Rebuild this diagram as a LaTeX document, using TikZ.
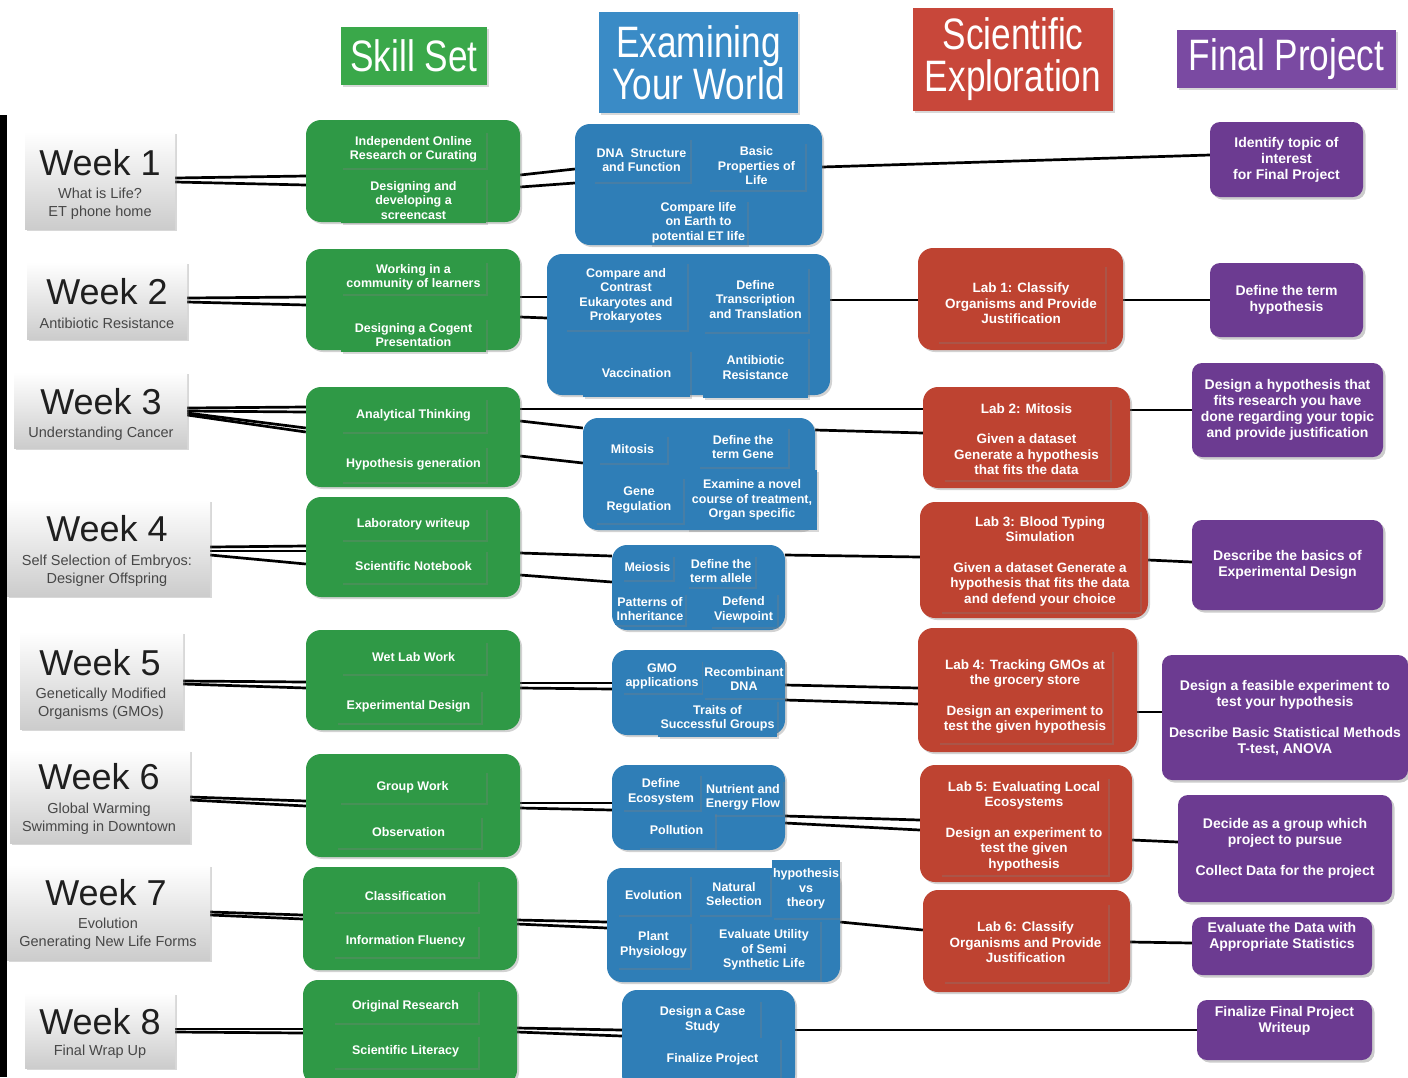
\documentclass[tikz,border=0pt]{standalone}
\usepackage{fontspec}
\setmainfont{Liberation Sans}
\newfontfamily\headfont[FakeStretch=0.8]{Liberation Sans}
\usetikzlibrary{shadows,backgrounds}
\definecolor{cgreen}{HTML}{2F9946}
\definecolor{cblue}{HTML}{2F7EB7}
\definecolor{cred}{HTML}{BE4331}
\definecolor{cpurple}{HTML}{6C3B91}
\definecolor{hgreen}{HTML}{3AA84A}
\definecolor{hblue}{HTML}{3A8BC6}
\definecolor{hred}{HTML}{C8473A}
\definecolor{hpurple}{HTML}{7A4AA2}
\tikzset{
  obox/.style={rounded corners=15pt, fill=#1, draw=none, inner sep=0pt,
    drop shadow={shadow xshift=2pt,shadow yshift=-2pt,opacity=.35}},
  ibox/.style={fill=#1, draw=none, inner sep=0pt, text=white, align=center,
    font=\bfseries\fontsize{12.5}{14.5}\selectfont,
    drop shadow={shadow xshift=1.5pt,shadow yshift=-1.5pt,opacity=.3}},
  rbox/.style={ibox=cred, font=\bfseries\fontsize{13.5}{15.5}\selectfont},
  pbox/.style={rounded corners=10pt, fill=cpurple, draw=none, inner sep=0pt,
    text=white, align=center, font=\bfseries\fontsize{14}{16}\selectfont,
    drop shadow={shadow xshift=2.5pt,shadow yshift=-2.5pt,opacity=.4}},
  hdr/.style={fill=#1, draw=none, inner sep=0pt, text=white, align=center,
    font=\headfont\fontsize{44}{42}\selectfont,
    drop shadow={shadow xshift=2pt,shadow yshift=-2pt,opacity=.3}},
  wkbox/.style={draw=none, top color=white, bottom color=black!20, inner sep=0pt,
    drop shadow={shadow xshift=1.5pt,shadow yshift=-2pt,opacity=.3}},
  wktitle/.style={inner sep=0pt, text=black!88, font=\fontsize{36}{38}\selectfont},
  wksub/.style={inner sep=0pt, text=black!72, align=center, font=\fontsize{14.5}{18}\selectfont},
  conn/.style={draw=black, line width=2.7pt},
}
\newcommand\bx[7]{\node[#1,minimum width={(#4)-(#2)},minimum height={(#5)-(#3)}] (#6) at ({((#2)+(#4))/2},{((#3)+(#5))/2}) {#7};}
\newcommand\cn[4]{\coordinate (ya) at (0,#2); \coordinate (yb) at (0,#4); \draw[conn] (#1.east |- ya) -- (#3.west |- yb);}
\begin{document}
\begin{tikzpicture}[x=1pt,y=-1pt]
\begin{scope}[on background layer]
\fill[white] (0,0) rectangle (1408,1077);
\end{scope}
\useasboundingbox (0,0) rectangle (1408,1077);
\fill[black] (0,115) rectangle (7,1077);

% headers
\bx{hdr=hgreen}{341}{27}{487}{85}{hSkill}{Skill Set}
\bx{hdr=hblue}{599}{12}{798}{113}{hExam}{Examining\\Your World}
\bx{hdr=hred}{913}{8}{1113}{111}{hSci}{Scientific\\Exploration}
\bx{hdr=hpurple}{1177}{30}{1396}{88}{hFinal}{Final Project}

% weeks
\bx{wkbox}{25}{132}{175}{229}{w1}{}
\node[wktitle] (w1t) at (100,163) {Week 1};
\node[wksub] (w1s) at (100,204) {What is Life?\\ET phone home};
\bx{wkbox}{27}{262}{187}{339}{w2}{}
\node[wktitle] (w2t) at (107,292) {Week 2};
\node[wksub] (w2s) at (107,323) {Antibiotic Resistance};
\bx{wkbox}{14}{372}{187}{448}{w3}{}
\node[wktitle] (w3t) at (101,402) {Week 3};
\node[wksub] (w3s) at (101,434) {Understanding Cancer};
\bx{wkbox}{7}{500}{210}{596}{w4}{}
\node[wktitle] (w4t) at (107,529) {Week 4};
\node[wksub] (w4s) at (107,571) {Self Selection of Embryos:\\Designer Offspring};
\bx{wkbox}{20}{632}{183}{729}{w5}{}
\node[wktitle] (w5t) at (100,663) {Week 5};
\node[wksub] (w5s) at (101,704) {Genetically Modified\\Organisms (GMOs)};
\bx{wkbox}{10}{750}{190}{843}{w6}{}
\node[wktitle] (w6t) at (99,777) {Week 6};
\node[wksub] (w6s) at (99,819) {Global Warming\\Swimming in Downtown};
\bx{wkbox}{7}{865}{210}{960}{w7}{}
\node[wktitle] (w7t) at (106,893) {Week 7};
\node[wksub] (w7s) at (108,934) {Evolution\\Generating New Life Forms};
\bx{wkbox}{25}{993}{175}{1068}{w8}{}
\node[wktitle] (w8t) at (100,1022) {Week 8};
\node[wksub] (w8s) at (100,1052) {Final Wrap Up};

% green column
\bx{obox=cgreen}{306}{120}{520}{222}{g1}{}
\bx{ibox=cgreen}{341}{131}{486}{168}{g1a}{Independent Online\\Research or Curating}
\bx{ibox=cgreen}{341}{178}{486}{223}{g1b}{Designing and\\developing a\\screencast}
\bx{obox=cgreen}{306}{249}{520}{350}{g2}{}
\bx{ibox=cgreen}{341}{261}{486}{294}{g2a}{Working in a\\community of learners}
\bx{ibox=cgreen}{341}{318}{486}{352}{g2b}{Designing a Cogent\\Presentation}
\bx{obox=cgreen}{306}{387}{520}{487}{g3}{}
\bx{ibox=cgreen}{341}{398}{486}{432}{g3a}{Analytical Thinking}
\bx{ibox=cgreen}{341}{446}{486}{482}{g3b}{Hypothesis generation}
\bx{obox=cgreen}{306}{497}{520}{597}{g4}{}
\bx{ibox=cgreen}{341}{508}{486}{540}{g4a}{Laboratory writeup}
\bx{ibox=cgreen}{341}{550}{486}{583}{g4b}{Scientific Notebook}
\bx{obox=cgreen}{306}{630}{520}{730}{g5}{}
\bx{ibox=cgreen}{341}{641}{486}{674}{g5a}{Wet Lab Work}
\bx{ibox=cgreen}{336}{690}{481}{723}{g5b}{Experimental Design}
\bx{obox=cgreen}{306}{754}{520}{857}{g6}{}
\bx{ibox=cgreen}{339}{771}{486}{803}{g6a}{Group Work}
\bx{ibox=cgreen}{336}{816}{481}{848}{g6b}{Observation}
\bx{obox=cgreen}{303}{867}{517}{970}{g7}{}
\bx{ibox=cgreen}{333}{880}{478}{912}{g7a}{Classification}
\bx{ibox=cgreen}{333}{925}{478}{957}{g7b}{Information Fluency}
\bx{obox=cgreen}{303}{980}{517}{1085}{g8}{}
\bx{ibox=cgreen}{333}{990}{478}{1023}{g8a}{Original Research}
\bx{ibox=cgreen}{333}{1035}{478}{1068}{g8b}{Scientific Literacy}

% blue column
\bx{obox=cblue}{575}{124}{822}{245}{b1}{}
\bx{ibox=cblue}{593}{138}{690}{182}{b1a}{DNA\ \ Structure\\and Function}
\bx{ibox=cblue}{708}{142}{805}{190}{b1b}{Basic\\Properties of\\Life}
\bx{ibox=cblue}{650}{200}{747}{245}{b1c}{Compare life\\on Earth to\\potential ET life}
\bx{obox=cblue}{547}{254}{830}{395}{b2}{}
\bx{ibox=cblue}{565}{262}{687}{330}{b2a}{Compare and\\Contrast\\Eukaryotes and\\Prokaryotes}
\bx{ibox=cblue}{703}{267}{808}{332}{b2b}{Define\\Transcription\\and Translation}
\bx{ibox=cblue}{583}{350}{690}{397}{b2c}{Vaccination}
\bx{ibox=cblue}{703}{337}{808}{398}{b2d}{Antibiotic\\Resistance}
\bx{obox=cblue}{583}{418}{815}{530}{b3}{}
\bx{ibox=cblue}{598}{435}{667}{463}{b3a}{Mitosis}
\bx{ibox=cblue}{698}{427}{788}{467}{b3b}{Define the\\term Gene}
\bx{ibox=cblue}{595}{477}{683}{523}{b3c}{Gene\\Regulation}
\bx{ibox=cblue}{687}{470}{817}{530}{b3d}{Examine a novel\\course of treatment,\\Organ specific}
\bx{obox=cblue}{612}{545}{785}{630}{b4}{}
\bx{ibox=cblue}{622}{555}{673}{580}{b4a}{Meiosis}
\bx{ibox=cblue}{687}{555}{755}{587}{b4b}{Define the\\term allele}
\bx{ibox=cblue}{615}{593}{685}{625}{b4c}{Patterns of\\Inheritance}
\bx{ibox=cblue}{710}{593}{777}{627}{b4d}{Defend\\Viewpoint}
\bx{obox=cblue}{612}{650}{785}{735}{b5}{}
\bx{ibox=cblue}{622}{660}{702}{693}{b5a}{GMO\\applications}
\bx{ibox=cblue}{703}{660}{785}{698}{b5b}{Recombinant\\DNA}
\bx{ibox=cblue}{658}{700}{777}{737}{b5c}{Traits of\\Successful Groups}
\bx{obox=cblue}{612}{765}{785}{850}{b6}{}
\bx{ibox=cblue}{622}{774}{700}{810}{b6a}{Define\\Ecosystem}
\bx{ibox=cblue}{703}{780}{783}{815}{b6b}{Nutrient and\\Energy Flow}
\bx{ibox=cblue}{638}{812}{715}{848}{b6c}{Pollution}
\bx{obox=cblue}{607}{868}{840}{982}{b7}{}
\bx{ibox=cblue}{617}{875}{690}{915}{b7a}{Evolution}
\bx{ibox=cblue}{698}{873}{770}{915}{b7b}{Natural\\Selection}
\bx{ibox=cblue}{772}{860}{840}{918}{b7c}{hypothesis\\vs\\theory}
\bx{ibox=cblue}{617}{922}{690}{968}{b7d}{Plant\\Physiology}
\bx{ibox=cblue}{708}{920}{820}{980}{b7e}{Evaluate Utility\\of Semi\\Synthetic Life}
\bx{obox=cblue}{622}{990}{795}{1090}{b8}{}
\bx{ibox=cblue}{645}{1000}{760}{1040}{b8a}{Design a Case\\Study}
\bx{ibox=cblue}{645}{1038}{780}{1080}{b8b}{Finalize Project}

% red column
\bx{obox=cred}{918}{248}{1123}{350}{r1}{}
\bx{rbox}{937}{265}{1105}{342}{r1a}{Lab 1: Classify\\Organisms and Provide\\Justification}
\bx{obox=cred}{923}{387}{1130}{488}{r2}{}
\bx{rbox}{943}{398}{1110}{480}{r2a}{Lab 2: Mitosis\\[15pt]Given a dataset\\Generate a hypothesis\\that fits the data}
\bx{obox=cred}{920}{502}{1148}{618}{r3}{}
\bx{rbox}{940}{510}{1140}{612}{r3a}{Lab 3: Blood Typing\\Simulation\\[15pt]Given a dataset Generate a\\hypothesis that fits the data\\and defend your choice}
\bx{obox=cred}{918}{628}{1137}{752}{r4}{}
\bx{rbox}{938}{650}{1112}{743}{r4a}{Lab 4: Tracking GMOs at\\the grocery store\\[15pt]Design an experiment to\\test the given hypothesis}
\bx{obox=cred}{920}{765}{1132}{882}{r5}{}
\bx{rbox}{940}{777}{1108}{875}{r5a}{Lab 5: Evaluating Local\\Ecosystems\\[15pt]Design an experiment to\\test the given\\hypothesis}
\bx{obox=cred}{923}{890}{1130}{992}{r6}{}
\bx{rbox}{943}{903}{1108}{982}{r6a}{Lab 6: Classify\\Organisms and Provide\\Justification}

% purple column
\bx{pbox}{1210}{122}{1363}{197}{p1}{Identify topic of\\interest\\for Final Project}
\bx{pbox}{1210}{263}{1363}{337}{p2}{Define the term\\hypothesis}
\bx{pbox}{1192}{363}{1383}{457}{p3}{Design a hypothesis that\\fits research you have\\done regarding your topic\\and provide justification}
\bx{pbox}{1192}{520}{1383}{610}{p4}{Describe the basics of\\Experimental Design}
\bx{pbox}{1162}{655}{1408}{780}{p5}{Design a feasible experiment to\\test your hypothesis\\[15pt]Describe Basic Statistical Methods\\T-test, ANOVA}
\bx{pbox}{1178}{795}{1392}{902}{p6}{Decide as a group which\\project to pursue\\[15pt]Collect Data for the project}
\bx{pbox}{1192}{917}{1372}{975}{p7}{Evaluate the Data with\\Appropriate Statistics\\[6pt]}
\bx{pbox}{1197}{1000}{1372}{1060}{p8}{Finalize Final Project\\Writeup\\[6pt]}

% connectors
\begin{scope}[on background layer]
\cn{w1}{178}{g1}{176} \cn{w1}{182}{g1}{185}
\cn{w2}{298}{g2}{297} \cn{w2}{302}{g2}{305}
\cn{w3}{408}{g3}{407} \cn{w3}{411}{g3}{412} \cn{w3}{413}{g3}{428} \cn{w3}{415}{g3}{432}
\cn{w4}{547}{g4}{546} \cn{w4}{551}{g4}{551} \cn{w4}{555}{g4}{564}
\cn{w5}{681}{g5}{682} \cn{w5}{684}{g5}{688}
\cn{w6}{797}{g6}{801} \cn{w6}{800}{g6}{806}
\cn{w7}{912}{g7}{915} \cn{w7}{915}{g7}{919}
\cn{w8}{1029}{g8}{1029} \cn{w8}{1032}{g8}{1033}
\cn{g1}{175}{b1}{169} \cn{g1}{187}{b1}{183}
\cn{g2}{297}{b2}{297} \cn{g2}{317}{b2}{318}
\cn{g3}{409}{r2}{409} \cn{g3}{421}{b3}{428} \cn{g3}{456}{b3}{463}
\cn{g4}{553}{b4}{556} \cn{g4}{575}{b4}{582}
\cn{g5}{683}{b5}{683} \cn{g5}{688}{b5}{689}
\cn{g6}{803}{b6}{803} \cn{g6}{808}{b6}{810}
\cn{g7}{920}{b7}{922} \cn{g7}{924}{b7}{928}
\cn{g8}{1028}{b8}{1030} \cn{g8}{1032}{b8}{1036}
\cn{b1}{167}{p1}{155}
\cn{b2}{300}{r1}{300}
\cn{b3}{430}{r2}{433}
\cn{b4}{555}{r3}{557}
\cn{b5}{685}{r4}{688} \cn{b5}{700}{r4}{704}
\cn{b6}{816}{r5}{820} \cn{b6}{823}{r5}{830}
\cn{b7}{922}{r6}{930}
\cn{b8}{1030}{p8}{1030}
\cn{r1}{300}{p2}{300}
\cn{r2}{410}{p3}{410}
\cn{r3}{560}{p4}{562}
\cn{r4}{712}{p5}{712}
\cn{r5}{840}{p6}{842}
\cn{r6}{942}{p7}{943}
\end{scope}
\end{tikzpicture}
\end{document}
